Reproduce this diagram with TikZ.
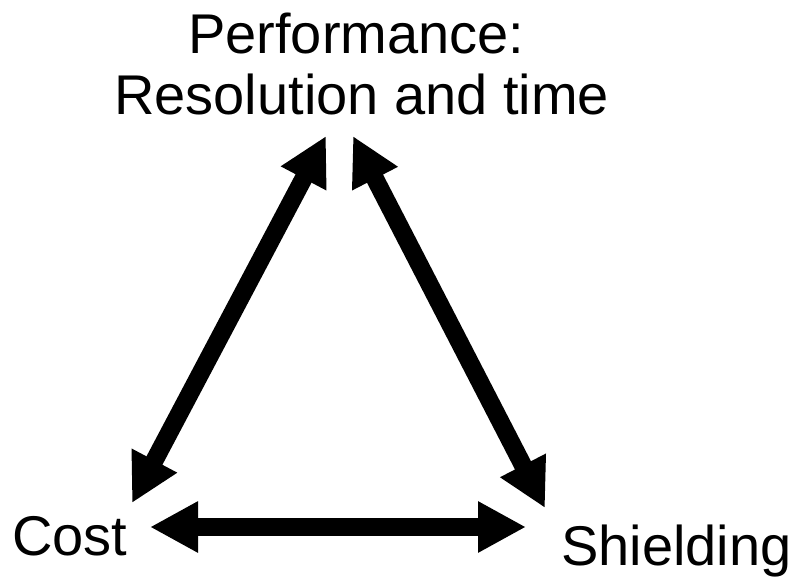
\documentclass[tikz,border=0pt]{standalone}
\usepackage{fontspec}
\setmainfont{Liberation Sans}
\usetikzlibrary{arrows.meta}
\begin{document}
\begin{tikzpicture}[x=1pt,y=-1pt,
  lbl/.style={anchor=base west,inner sep=0pt,font=\fontsize{56}{62}\selectfont},
  link/.style={line width=18pt,{Triangle[length=48pt,width=48pt]}-{Triangle[length=48pt,width=48pt]}}]
\useasboundingbox (0,0) rectangle (792,581);
\node[lbl] (perf) at (188,53) {Performance:};
\node[lbl] (res) at (114,114) {Resolution and time};
\node[lbl] (cost) at (12,555) {Cost};
\node[lbl] (shield) at (561,565) {Shielding};
\coordinate (pL) at (326,136);
\coordinate (pR) at (353,136);
\coordinate (cU) at (132,503);
\coordinate (cR) at (150,527);
\coordinate (sU) at (545,508);
\coordinate (sL) at (526,527);
\draw[link] (cU) -- (pL);
\draw[link] (sU) -- (pR);
\draw[link] (cR) -- (sL);
\end{tikzpicture}
\end{document}
